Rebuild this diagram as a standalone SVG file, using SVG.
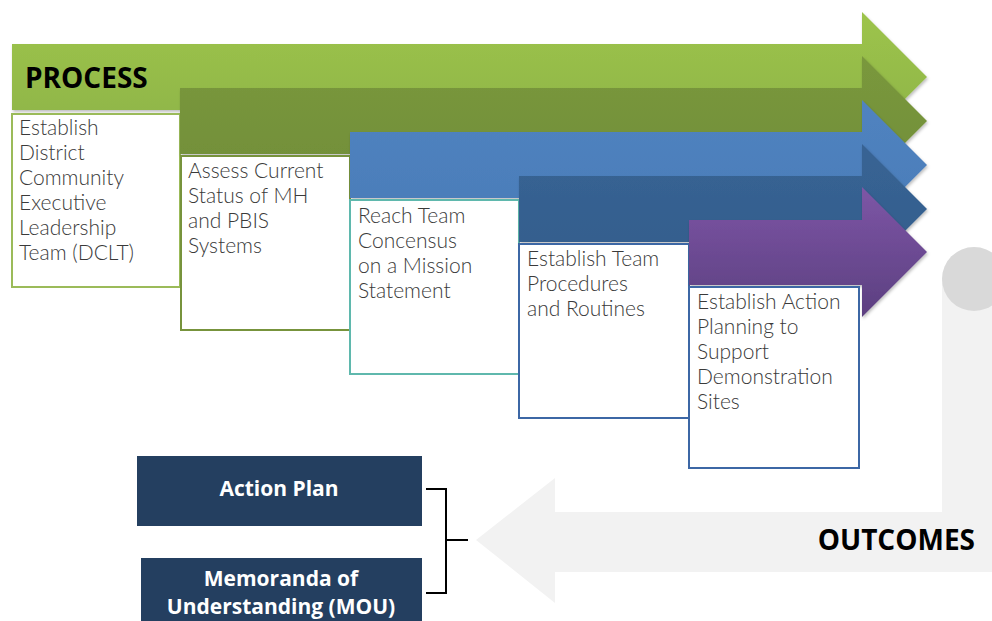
<svg xmlns="http://www.w3.org/2000/svg" width="992" height="621" viewBox="0 0 992 621">
<defs>
<linearGradient id="g1" x1="0" y1="0" x2="0" y2="1"><stop offset="0" stop-color="#9dc44c"/><stop offset="1" stop-color="#8db347"/></linearGradient>
<linearGradient id="g2" x1="0" y1="0" x2="0" y2="1"><stop offset="0" stop-color="#7a983c"/><stop offset="1" stop-color="#718e39"/></linearGradient>
<linearGradient id="g3" x1="0" y1="0" x2="0" y2="1"><stop offset="0" stop-color="#5083c0"/><stop offset="1" stop-color="#4a7cb8"/></linearGradient>
<linearGradient id="g4" x1="0" y1="0" x2="0" y2="1"><stop offset="0" stop-color="#386494"/><stop offset="1" stop-color="#335d8c"/></linearGradient>
<linearGradient id="g5" x1="0" y1="0" x2="0" y2="1"><stop offset="0" stop-color="#7d56a6"/><stop offset="1" stop-color="#5c3f80"/></linearGradient>
<filter id="sh" x="-5%" y="-5%" width="115%" height="120%"><feDropShadow dx="1" dy="2" stdDeviation="1.5" flood-color="#000" flood-opacity="0.25"/></filter>
</defs>
<style>
.box{fill:#fff;stroke-width:2}
.t{font-family:Lato,"Open Sans",sans-serif;font-weight:300;font-size:21px;fill:#3a3a3a}
.h{font-family:"Open Sans","Liberation Sans",sans-serif;font-weight:bold;font-size:28px;fill:#000}
.w{font-family:"Open Sans","Liberation Sans",sans-serif;font-weight:bold;font-size:21px;fill:#fff}
.ob{fill:#243f60}
</style>
<g id="outcome-arrow">
<path d="M942,279 L1004,279 L1004,572 L555,572 L555,603 L476,540 L555,478 L555,512 L942,512 Z" fill="#f2f2f2"/>
<circle cx="974" cy="279" r="32" fill="#d9d9d9"/>
<text class="h" x="975" y="550" text-anchor="end">OUTCOMES</text>
</g>
<g id="step1">
<path d="M12,44 L862,44 L862,12 L927,77 L862,142 L862,110 L12,110 Z" fill="url(#g1)" filter="url(#sh)"/>
<text class="h" x="25" y="88">PROCESS</text>
<rect class="box" x="12" y="114" width="168" height="173" stroke="#9bbb59"/>
<text class="t"><tspan x="19" y="135">Establish</tspan><tspan x="19" y="160">District</tspan><tspan x="19" y="185">Community</tspan><tspan x="19" y="210">Executive</tspan><tspan x="19" y="235">Leadership</tspan><tspan x="19" y="260">Team (DCLT)</tspan></text>
</g>
<g id="step2">
<path d="M180,88 L862,88 L862,56 L927,121 L862,186 L862,154 L180,154 Z" fill="url(#g2)" filter="url(#sh)"/>
<rect class="box" x="181" y="156" width="169" height="174" stroke="#77933c"/>
<text class="t"><tspan x="188" y="178">Assess Current</tspan><tspan x="188" y="203">Status of MH</tspan><tspan x="188" y="228">and PBIS</tspan><tspan x="188" y="253">Systems</tspan></text>
</g>
<g id="step3">
<path d="M350,132 L862,132 L862,100 L927,165 L862,230 L862,198 L350,198 Z" fill="url(#g3)" filter="url(#sh)"/>
<rect class="box" x="350" y="200" width="169" height="174" stroke="#5fb8ad"/>
<text class="t"><tspan x="358" y="223">Reach Team</tspan><tspan x="358" y="248">Concensus</tspan><tspan x="358" y="273">on a Mission</tspan><tspan x="358" y="298">Statement</tspan></text>
</g>
<g id="step4">
<path d="M519,176 L862,176 L862,144 L927,209 L862,274 L862,242 L519,242 Z" fill="url(#g4)" filter="url(#sh)"/>
<rect class="box" x="519" y="244" width="170" height="174" stroke="#3c67a5"/>
<text class="t"><tspan x="527" y="266">Establish Team</tspan><tspan x="527" y="291">Procedures</tspan><tspan x="527" y="316">and Routines</tspan></text>
</g>
<g id="step5">
<path d="M689,220 L862,220 L862,187 L927,252 L862,317 L862,285 L689,285 Z" fill="url(#g5)" filter="url(#sh)"/>
<rect class="box" x="689" y="287" width="170" height="181" stroke="#3c67a5"/>
<text class="t"><tspan x="697" y="309">Establish Action</tspan><tspan x="697" y="334">Planning to</tspan><tspan x="697" y="359">Support</tspan><tspan x="697" y="384">Demonstration</tspan><tspan x="697" y="409">Sites</tspan></text>
</g>
<g id="action-plan">
<rect class="ob" x="137" y="456" width="285" height="70"/>
<text class="w" x="279" y="496" text-anchor="middle">Action Plan</text>
</g>
<g id="mou">
<rect class="ob" x="141" y="558" width="281" height="70"/>
<text class="w" x="281" y="586" text-anchor="middle">Memoranda of</text>
<text class="w" x="281" y="614" text-anchor="middle">Understanding (MOU)</text>
</g>
<g id="connectors" fill="none" stroke="#000" stroke-width="2">
<path d="M426,489 L446,489 L446,593 L426,593 M446,540 L468,540"/>
</g>
</svg>
